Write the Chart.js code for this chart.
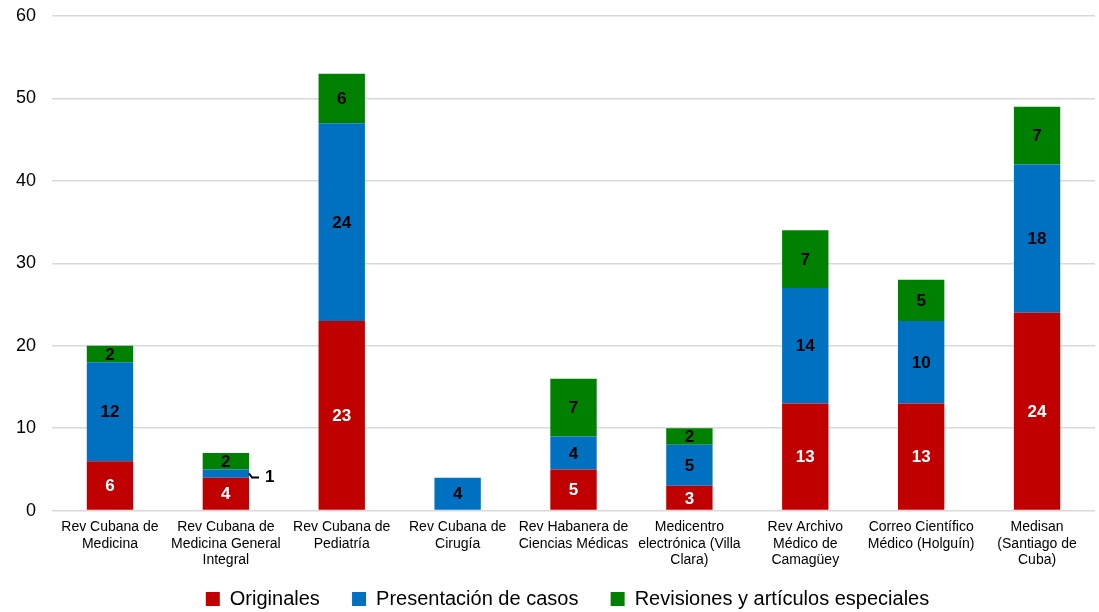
<!DOCTYPE html>
<html>
<head>
<meta charset="utf-8">
<script src="https://cdn.jsdelivr.net/npm/chart.js@4/dist/chart.umd.min.js"></script>
<style>
  html, body { margin: 0; padding: 0; background: #fff; }
  #wrap { width: 1099px; height: 612px; position: relative; }
</style>
</head>
<body>
<div id="wrap"><canvas id="chart"></canvas></div>
<script>
// journals (x categories), split into lines like the original
const categories = [
  ['Rev Cubana de', 'Medicina'],
  ['Rev Cubana de', 'Medicina General', 'Integral'],
  ['Rev Cubana de', 'Pediatría'],
  ['Rev Cubana de', 'Cirugía'],
  ['Rev Habanera de', 'Ciencias Médicas'],
  ['Medicentro', 'electrónica (Villa', 'Clara)'],
  ['Rev Archivo', 'Médico de', 'Camagüey'],
  ['Correo Científico', 'Médico (Holguín)'],
  ['Medisan', '(Santiago de', 'Cuba)']
];
const originales    = [6, 4, 23, 0, 5, 3, 13, 13, 24];
const presentacion  = [12, 1, 24, 4, 4, 5, 14, 10, 18];
const revisiones    = [2, 2, 6, 0, 7, 2, 7, 5, 7];
const yTicks = [0, 10, 20, 30, 40, 50, 60];

const FONT = '"Liberation Sans", Arial, sans-serif';
const GAP = '\u00a0\u00a0\u00a0\u00a0'; // extra room between legend entries

// value labels inside each segment; tiny segments get a label outside with a short leader
const valueLabels = {
  id: 'valueLabels',
  afterLayout(chart) {
    // the original legend sits a bit right of the canvas centre
    const lg = chart.legend;
    if (lg) { lg.left += 20; lg.right += 20; }
  },
  afterDatasetsDraw(chart) {
    const ctx = chart.ctx;
    ctx.save();
    ctx.font = 'bold 17px ' + FONT;
    ctx.textBaseline = 'middle';
    chart.data.datasets.forEach((ds, di) => {
      const meta = chart.getDatasetMeta(di);
      meta.data.forEach((bar, i) => {
        const v = ds.data[i];
        if (!v) return;
        const h = Math.abs(bar.base - bar.y);
        ctx.fillStyle = di === 0 ? '#fff' : '#000';
        if (h < 14) {
          const x0 = bar.x + bar.width / 2;
          const y0 = (bar.y + bar.base) / 2;
          ctx.strokeStyle = '#000';
          ctx.lineWidth = 2;
          ctx.beginPath();
          ctx.moveTo(x0, y0);
          ctx.lineTo(x0 + 3, y0 + 4);
          ctx.lineTo(x0 + 10, y0 + 4);
          ctx.stroke();
          ctx.fillStyle = '#000';
          ctx.textAlign = 'left';
          ctx.fillText(String(v), x0 + 16, y0 + 4);
        } else {
          ctx.textAlign = 'center';
          ctx.fillText(String(v), bar.x, (bar.y + bar.base) / 2 + 1);
        }
      });
    });
    ctx.restore();
  }
};

new Chart(document.getElementById('chart'), {
  type: 'bar',
  data: {
    labels: categories,
    datasets: [
      { label: 'Originales' + GAP, data: originales, backgroundColor: '#C00000' },
      { label: 'Presentación de casos' + GAP, data: presentacion, backgroundColor: '#0070C0' },
      { label: 'Revisiones y artículos especiales', data: revisiones, backgroundColor: '#008000' }
    ]
  },
  options: {
    responsive: true,
    maintainAspectRatio: false,
    animation: false,
    layout: { padding: { top: 0, right: 4, left: 0, bottom: -7 } },
    datasets: { bar: { barPercentage: 0.4, categoryPercentage: 1 } },
    plugins: {
      tooltip: { enabled: false },
      legend: {
        position: 'bottom',
        labels: {
          color: '#000',
          font: { family: FONT, size: 20 },
          boxWidth: 14,
          boxHeight: 14,
          padding: 10
        }
      }
    },
    scales: {
      x: {
        stacked: true,
        grid: { display: false },
        border: { display: false },
        afterFit(scale) { scale.height += 10; },
        ticks: {
          color: '#000',
          font: { family: FONT, size: 14, lineHeight: 1.2 },
          maxRotation: 0,
          autoSkip: false,
          padding: 0
        }
      },
      y: {
        stacked: true,
        min: 0,
        max: 60,
        afterBuildTicks(axis) { axis.ticks = yTicks.map(v => ({ value: v })); },
        afterFit(scale) { scale.paddingTop = 16; },
        grid: { color: '#d9d9d9', lineWidth: 1.5, drawTicks: false },
        border: { display: false },
        ticks: {
          color: '#000',
          font: { family: FONT, size: 18, lineHeight: 1 },
          padding: 16
        }
      }
    }
  },
  plugins: [valueLabels]
});
</script>
</body>
</html>
